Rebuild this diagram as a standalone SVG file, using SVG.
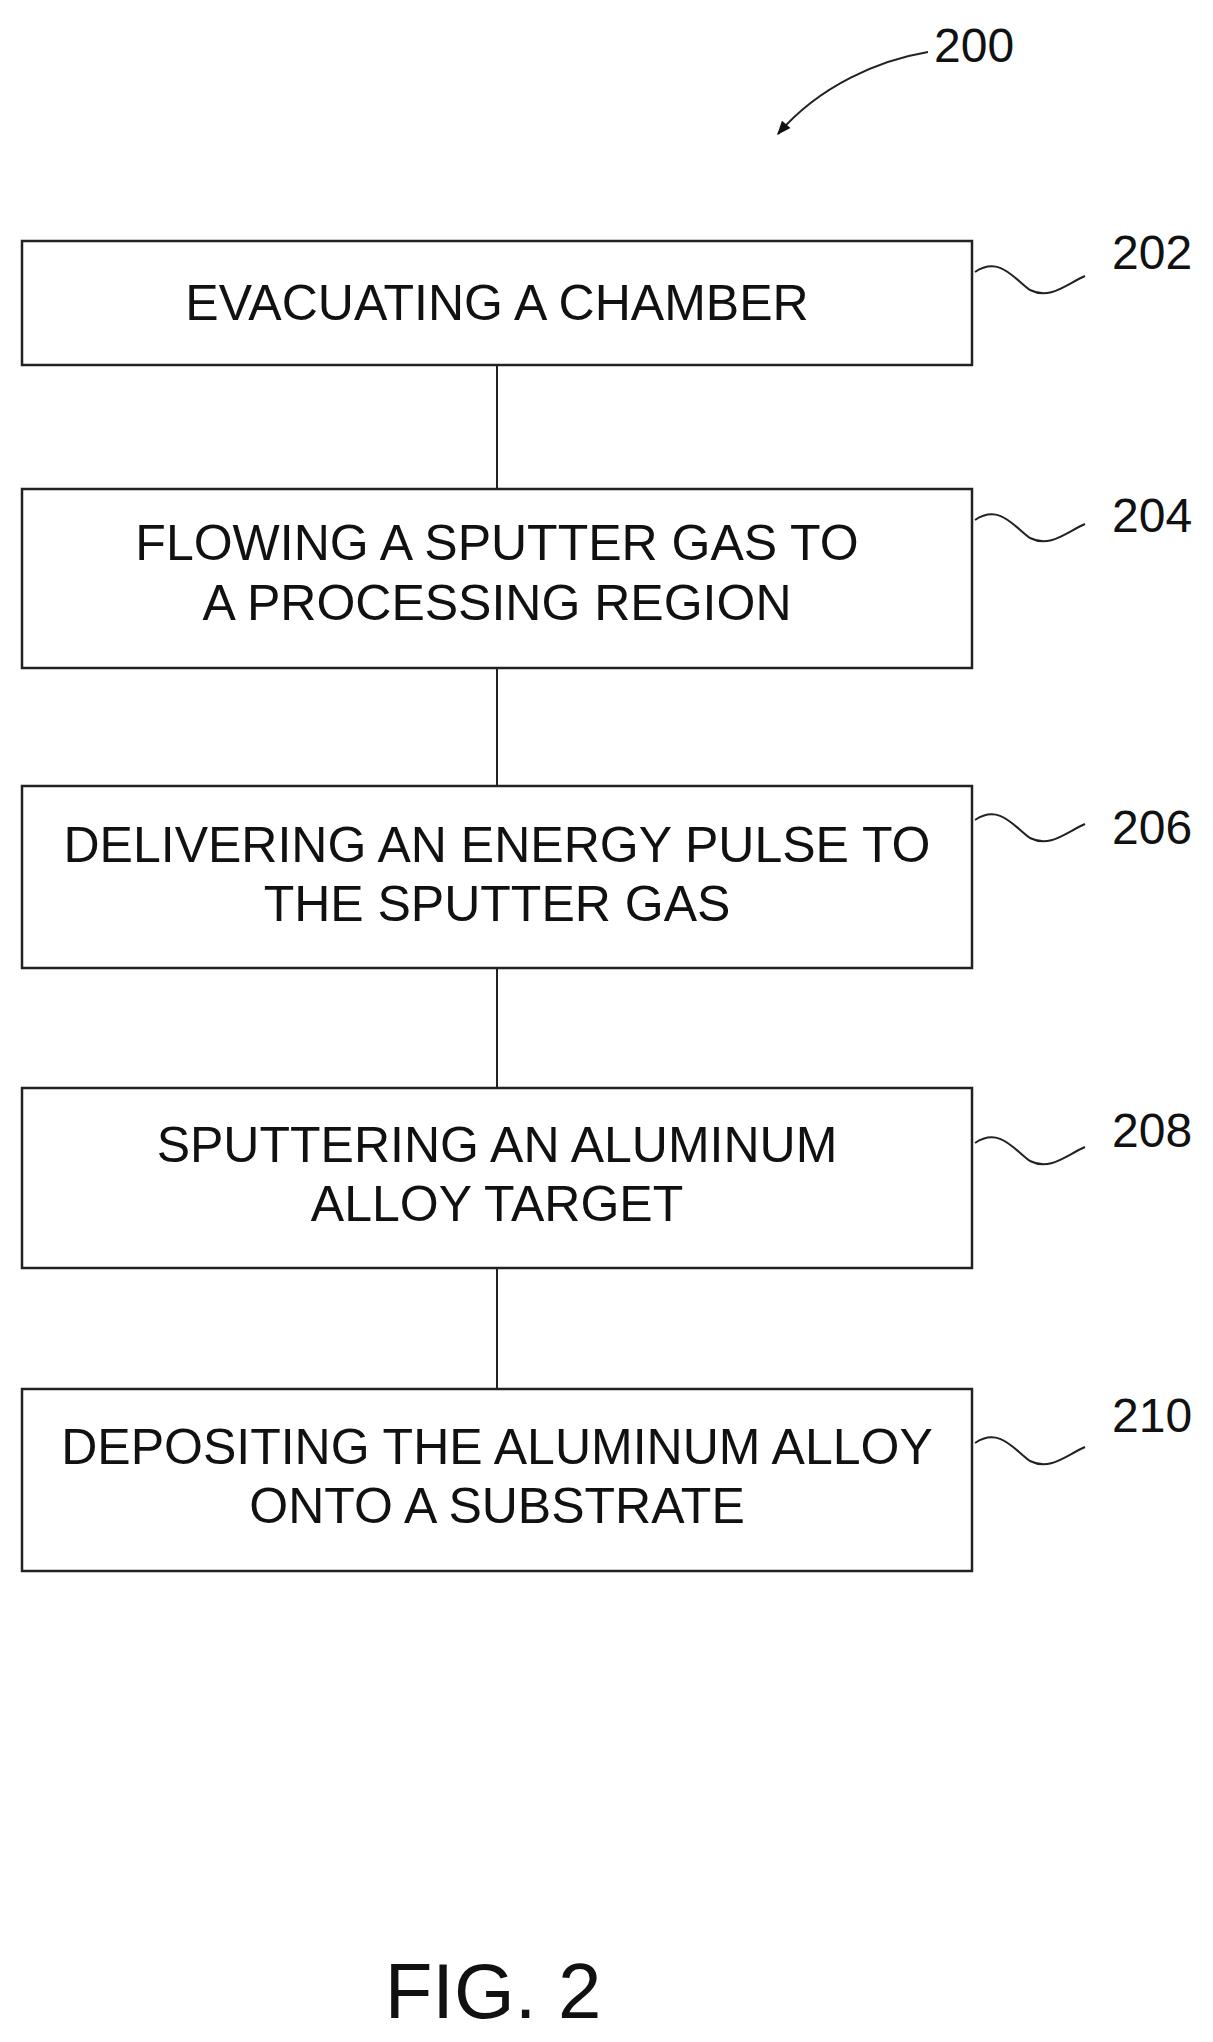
<svg xmlns="http://www.w3.org/2000/svg" width="1213" height="2042" viewBox="0 0 1213 2042">
<style>
.b{fill:#fff;stroke:#222;stroke-width:2.5}
.t{font-family:"Liberation Sans",Arial,sans-serif;font-size:50px;fill:#111;text-anchor:middle}
.l{font-family:"Liberation Sans",Arial,sans-serif;font-size:48px;fill:#111}
.c{fill:none;stroke:#222;stroke-width:2}
</style>
<defs><marker id="a" viewBox="0 0 10 10" refX="9" refY="5" markerWidth="26" markerHeight="14" orient="auto" markerUnits="userSpaceOnUse"><path d="M0,1 L10,5 L0,9 Z" fill="#111"/></marker></defs>
<g id="connectors">
<line class="c" x1="497" y1="365" x2="497" y2="489"/>
<line class="c" x1="497" y1="668" x2="497" y2="786"/>
<line class="c" x1="497" y1="968" x2="497" y2="1088"/>
<line class="c" x1="497" y1="1268" x2="497" y2="1389"/>
<path class="c" stroke-width="2.5" d="M928,52 C880,60 820,85 778,134" marker-end="url(#a)"/>
</g>
<g id="ref200"><text class="l" x="934" y="62">200</text></g>
<g id="n202"><rect class="b" x="22" y="241" width="950" height="124"/><text class="t" x="497" y="320">EVACUATING A CHAMBER</text>
<path class="c" d="M975,272 C1000,255 1015,280 1030,290 C1050,300 1065,285 1085,276"/><text class="l" x="1112" y="269">202</text></g>
<g id="n204"><rect class="b" x="22" y="489" width="950" height="179"/><text class="t" x="497" y="560">FLOWING A SPUTTER GAS TO</text><text class="t" x="497" y="620">A PROCESSING REGION</text>
<path class="c" d="M975,520 C1000,503 1015,528 1030,538 C1050,548 1065,533 1085,524"/><text class="l" x="1112" y="532">204</text></g>
<g id="n206"><rect class="b" x="22" y="786" width="950" height="182"/><text class="t" x="497" y="862">DELIVERING AN ENERGY PULSE TO</text><text class="t" x="497" y="921">THE SPUTTER GAS</text>
<path class="c" d="M975,820 C1000,803 1015,828 1030,838 C1050,848 1065,833 1085,824"/><text class="l" x="1112" y="844">206</text></g>
<g id="n208"><rect class="b" x="22" y="1088" width="950" height="180"/><text class="t" x="497" y="1162">SPUTTERING AN ALUMINUM</text><text class="t" x="497" y="1221">ALLOY TARGET</text>
<path class="c" d="M975,1143 C1000,1126 1015,1151 1030,1161 C1050,1171 1065,1156 1085,1147"/><text class="l" x="1112" y="1147">208</text></g>
<g id="n210"><rect class="b" x="22" y="1389" width="950" height="182"/><text class="t" x="497" y="1464">DEPOSITING THE ALUMINUM ALLOY</text><text class="t" x="497" y="1523">ONTO A SUBSTRATE</text>
<path class="c" d="M975,1443 C1000,1426 1015,1451 1030,1461 C1050,1471 1065,1456 1085,1447"/><text class="l" x="1112" y="1432">210</text></g>
<text x="493" y="2018" font-family="'Liberation Sans',Arial,sans-serif" font-size="78" text-anchor="middle" fill="#111">FIG. 2</text>
</svg>
